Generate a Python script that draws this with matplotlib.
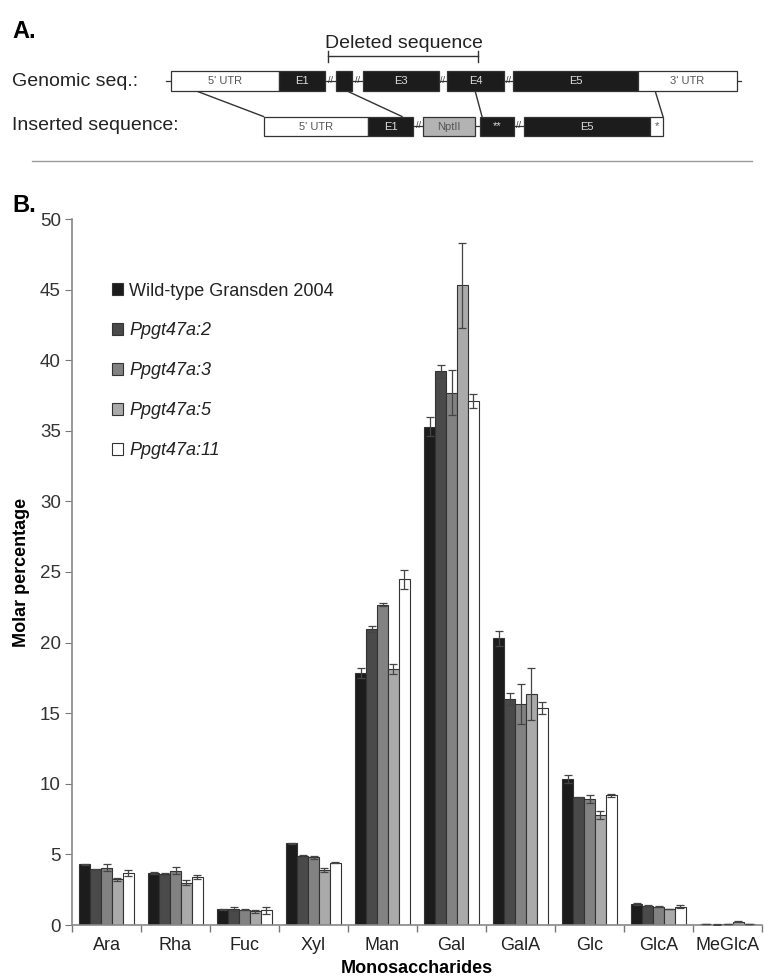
import matplotlib
matplotlib.use("Agg")
import matplotlib.pyplot as plt
from matplotlib.patches import Rectangle
import numpy as np

plt.rcParams['font.family'] = ['Liberation Sans', 'DejaVu Sans']

# ---------------- data ----------------
categories = ['Ara', 'Rha', 'Fuc', 'Xyl', 'Man', 'Gal', 'GalA', 'Glc', 'GlcA', 'MeGlcA']
series_names = ['Wild-type Gransden 2004', 'Ppgt47a:2', 'Ppgt47a:3', 'Ppgt47a:5', 'Ppgt47a:11']

wt = [4.30, 3.68, 1.10, 5.78, 17.85, 35.30, 20.30, 10.33, 1.49, 0.07]
wt_err = [0.05, 0.05, 0.03, 0.03, 0.35, 0.65, 0.55, 0.30, 0.04, 0.01]
p2 = [3.94, 3.60, 1.11, 4.90, 20.95, 39.20, 16.00, 9.05, 1.36, 0.03]
p2_err = [0.05, 0.05, 0.15, 0.05, 0.20, 0.45, 0.45, 0.05, 0.03, 0.01]
p3 = [4.06, 3.85, 1.09, 4.80, 22.67, 37.70, 15.66, 8.90, 1.29, 0.08]
p3_err = [0.25, 0.23, 0.05, 0.10, 0.10, 1.60, 1.40, 0.28, 0.05, 0.02]
p5 = [3.23, 3.00, 0.97, 3.90, 18.10, 45.30, 16.35, 7.80, 1.13, 0.22]
p5_err = [0.10, 0.20, 0.10, 0.15, 0.35, 3.00, 1.84, 0.30, 0.03, 0.03]
p11 = [3.68, 3.42, 1.04, 4.42, 24.48, 37.10, 15.36, 9.20, 1.29, 0.08]
p11_err = [0.20, 0.14, 0.25, 0.05, 0.66, 0.50, 0.45, 0.10, 0.10, 0.02]

values = [wt, p2, p3, p5, p11]
errors = [wt_err, p2_err, p3_err, p5_err, p11_err]
colors = ['#1c1c1c', '#4a4a4a', '#828282', '#aaaaaa', '#ffffff']
yticks = [0, 5, 10, 15, 20, 25, 30, 35, 40, 45, 50]

# ---------------- panel A schematic (pixel space) ----------------
genomic_boxes = [(170.5, 279, 'white', "5' UTR"), (279, 325, '#1c1c1c', 'E1'),
                 (336, 352, '#1c1c1c', ''), (363, 439, '#1c1c1c', 'E3'),
                 (447, 504, '#1c1c1c', 'E4'), (513, 638, '#1c1c1c', 'E5'),
                 (638, 737, 'white', "3' UTR")]
inserted_boxes = [(263.5, 368, 'white', "5' UTR"), (368, 413, '#1c1c1c', 'E1'),
                  (423, 475, '#b3b3b3', 'NptII'), (480, 514, '#1c1c1c', '**'),
                  (524, 650, '#1c1c1c', 'E5'), (650, 663, 'white', '*')]
genomic_breaks = [330.5, 357.5, 443, 508.5]
inserted_breaks = [418, 519]
connectors = [((195, 90.5), (263.5, 116.5)), ((346, 90.5), (402, 116.5)),
              ((475, 90.5), (482, 116.5)), ((655, 90.5), (663, 116.5))]

W, H = 764, 977
fig = plt.figure(figsize=(W / 100, H / 100), dpi=100)

ov = fig.add_axes([0, 0, 1, 1])
ov.set_xlim(0, W)
ov.set_ylim(H, 0)
ov.axis('off')

box_font = ['Liberation Sans Narrow', 'Liberation Sans', 'DejaVu Sans']

def draw_row(boxes, y0, y1, breaks, line_span):
    ym = (y0 + y1) / 2
    ov.plot(line_span, [ym, ym], color='#333333', lw=0.9, zorder=1)
    for x0, x1, fc, lab in boxes:
        ov.add_patch(Rectangle((x0, y0), x1 - x0, y1 - y0, facecolor=fc,
                               edgecolor='#333333', lw=0.9, zorder=2))
        if lab:
            tc = '#dddddd' if fc == '#1c1c1c' else '#555555'
            ov.text((x0 + x1) / 2, ym + 0.5, lab, ha='center', va='center',
                    fontsize=8, color=tc, zorder=3, family=box_font)
    for bx in breaks:
        ov.text(bx, ym, '//', ha='center', va='center', fontsize=6.5,
                color='#333333', zorder=3)

draw_row(genomic_boxes, 71, 90.5, genomic_breaks, [166, 741])
draw_row(inserted_boxes, 116.5, 135.5, inserted_breaks, [413, 524])
for (a, b) in connectors:
    ov.plot([a[0], b[0]], [a[1], b[1]], color='#333333', lw=1.0, zorder=1)

ov.text(12, 32, 'A.', fontsize=17, fontweight='bold', ha='left', va='center')
ov.text(12, 81, 'Genomic seq.:', fontsize=14, ha='left', va='center', color='#222222')
ov.text(12, 126, 'Inserted sequence:', fontsize=14, ha='left', va='center', color='#222222')
ov.text(404, 44, 'Deleted sequence', fontsize=14, ha='center', va='center', color='#222222')
ov.plot([328, 478], [56, 56], color='#333333', lw=1.0)
ov.plot([328, 328], [51, 62], color='#333333', lw=1.0)
ov.plot([478, 478], [51, 62], color='#333333', lw=1.0)
ov.plot([32, 752], [161, 161], color='#999999', lw=1.0)
ov.text(12, 205, 'B.', fontsize=17, fontweight='bold', ha='left', va='center')

# ---------------- panel B bar chart ----------------
ax = fig.add_axes([72 / W, (H - 925) / H, 690 / W, 706 / H])
x = np.arange(len(categories))
bw = 0.157
for i, (vals, errs, c, name) in enumerate(zip(values, errors, colors, series_names)):
    pos = x + (i - 2) * bw
    ax.bar(pos, vals, width=bw, color=c, edgecolor='#333333', linewidth=0.8,
           label=name, zorder=2)
    ax.errorbar(pos, vals, yerr=errs, fmt='none', ecolor='#444444',
                elinewidth=0.9, capsize=2.6, capthick=0.9, zorder=3)

ax.set_xlim(-0.5, len(categories) - 0.5)
ax.set_ylim(0, 50)
ax.set_yticks(yticks)
ax.set_xticks(x)
ax.set_xticklabels(categories)
ax.set_xticks(np.arange(len(categories) + 1) - 0.5, minor=True)
ax.tick_params(axis='x', which='major', length=0, labelsize=13, pad=9, labelcolor='#222222')
ax.tick_params(axis='x', which='minor', length=5, color='#777777', width=1)
ax.tick_params(axis='y', length=5, color='#777777', labelsize=13.5, labelcolor='#333333', pad=3)
for s in ['top', 'right']:
    ax.spines[s].set_visible(False)
for s in ['left', 'bottom']:
    ax.spines[s].set_color('#888888')
    ax.spines[s].set_linewidth(1.2)

ax.set_ylabel('Molar percentage', fontsize=13, fontweight='bold', labelpad=7)
ax.set_xlabel('Monosaccharides', fontsize=13, fontweight='bold', labelpad=4)

leg = ax.legend(loc='upper left', bbox_to_anchor=(0.058, 0.910), frameon=False,
                fontsize=13, handlelength=0.6, handleheight=0.6,
                handletextpad=0.35, labelspacing=1.27, borderpad=0, borderaxespad=0)
for i, t in enumerate(leg.get_texts()):
    if i > 0:
        t.set_fontstyle('italic')
    t.set_color('#222222')

fig.savefig('out.png', dpi=100)
